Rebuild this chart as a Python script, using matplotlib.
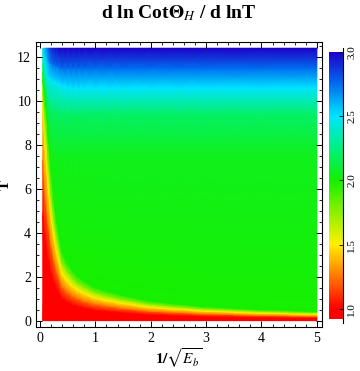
import numpy as np
import matplotlib
matplotlib.use("Agg")
import matplotlib.pyplot as plt
from matplotlib.colors import LinearSegmentedColormap
from matplotlib.ticker import MultipleLocator

plt.rcParams['font.family'] = ['Liberation Serif', 'DejaVu Serif']
plt.rcParams['mathtext.fontset'] = 'stix'

# columns of the density plot (1/sqrt(E_b))
x_cols = [0.05, 0.1, 0.15, 0.2, 0.25, 0.3, 0.4, 0.5, 0.6, 0.7, 0.8, 1.0, 1.25, 1.5, 2.0, 2.5, 3.0, 4.0, 5.0]
n = len(x_cols)

# T position of each colour row per column, with its value
t_bottom = [0.02] * n
v_bottom = [1.0] * n
t_red = [4.8, 3.6, 2.8, 2.2, 1.79, 1.46, 1.01, 0.85, 0.73, 0.65, 0.59, 0.49, 0.43, 0.38, 0.29, 0.25, 0.21, 0.17, 0.14]
v_red = [1.0] * n
t_orange = [7.3, 5.5, 4.4, 3.43, 2.77, 2.26, 1.57, 1.31, 1.13, 1.01, 0.91, 0.77, 0.67, 0.58, 0.45, 0.39, 0.33, 0.26, 0.22]
v_orange = [1.25] * n
t_yellow = [9.6, 7.6, 6.0, 4.7, 3.8, 3.1, 2.15, 1.8, 1.55, 1.38, 1.25, 1.05, 0.92, 0.80, 0.62, 0.53, 0.45, 0.36, 0.30]
v_yellow = [1.5] * n
t_lime = [10.4, 9.0, 7.3, 5.7, 4.64, 3.8, 2.62, 2.2, 1.89, 1.68, 1.53, 1.28, 1.12, 0.98, 0.76, 0.65, 0.55, 0.44, 0.37]
v_lime = [1.75] * n
t_green = [11.0, 10.0, 8.4, 6.8, 5.5, 4.5, 3.12, 2.61, 2.25, 2.0, 1.81, 1.52, 1.33, 1.16, 0.90, 0.77, 0.65, 0.52, 0.44]
v_green = [2.0] * n
t_green2 = [11.3, 10.5, 9.3, 7.8, 7.6] + [7.5] * (n - 5)
v_green2 = [2.1, 2.15, 2.1] + [2.05] * (n - 3)
t_teal = [11.7, 11.0, 10.2, 9.6, 9.55, 9.5] + [9.4] * (n - 6)
v_teal = [2.3, 2.35, 2.3] + [2.2] * (n - 3)
t_cyan = [12.0, 11.6, 11.1, 11.0, 10.9, 10.85, 10.7, 10.65] + [10.6] * (n - 8)
v_cyan = [2.4, 2.45] + [2.5] * (n - 2)
t_sky = [12.2, 12.0, 11.8, 11.7, 11.65, 11.6] + [11.5] * (n - 6)
v_sky = [2.45, 2.55, 2.65, 2.72, 2.74] + [2.75] * (n - 5)
t_top = [12.4] * n
v_top = [2.5, 2.65, 2.8, 2.9, 2.94, 2.97] + [3.0] * (n - 6)

bar_ticks = [1.0, 1.5, 2.0, 2.5, 3.0]

rows_t = [t_bottom, t_red, t_orange, t_yellow, t_lime, t_green, t_green2, t_teal, t_cyan, t_sky, t_top]
rows_v = [v_bottom, v_red, v_orange, v_yellow, v_lime, v_green, v_green2, v_teal, v_cyan, v_sky, v_top]

X = np.tile(np.array(x_cols), (len(rows_t), 1))
Y = np.array(rows_t)
V = np.array(rows_v)

vmin, vmax = 0.92, 3.0
def pos(v):
    return (v - vmin) / (vmax - vmin)

cmap = LinearSegmentedColormap.from_list("mma", [
    (0.0, (1.0, 0.0, 0.0)),
    (pos(1.0), (1.0, 0.0, 0.0)),
    (pos(1.25), (1.0, 0.47, 0.0)),
    (pos(1.5), (1.0, 0.94, 0.0)),
    (pos(1.75), (0.55, 0.94, 0.0)),
    (pos(2.0), (0.08, 0.94, 0.0)),
    (pos(2.25), (0.0, 0.94, 0.5)),
    (pos(2.5), (0.0, 0.9, 1.0)),
    (pos(2.75), (0.0, 0.43, 0.94)),
    (1.0, (0.12, 0.0, 0.78)),
])

fig = plt.figure(figsize=(3.6, 3.71), dpi=100)
ax = fig.add_axes([0.1, 0.1186, 0.794, 0.768])
mesh = ax.pcolormesh(X, Y, V, cmap=cmap, vmin=vmin, vmax=vmax, shading='gouraud')

ax.set_xlim(-0.072, 5.09)
ax.set_ylim(-0.27, 12.68)
ax.xaxis.set_major_locator(MultipleLocator(1))
ax.xaxis.set_minor_locator(MultipleLocator(0.2))
ax.yaxis.set_major_locator(MultipleLocator(2))
ax.yaxis.set_minor_locator(MultipleLocator(0.5))
ax.tick_params(which='both', direction='in', top=True, right=True, labelsize=10)
ax.tick_params(which='major', length=4, width=0.7)
ax.tick_params(which='minor', length=2, width=0.6)
for s in ax.spines.values():
    s.set_linewidth(0.8)

ax.set_title(r'd ln Cot$\mathbf{\Theta}_{\mathit{H}}$ / d lnT', fontsize=14,
             fontweight='bold', pad=17)
ax.set_xlabel(r'$\mathbf{1/}\sqrt{E_b}$', fontsize=11, fontweight='bold', labelpad=1)
ax.set_ylabel('T', fontsize=11, fontweight='bold')
ax.yaxis.set_label_coords(-0.085, 0.5)

cax = fig.add_axes([0.914, 0.140, 0.039, 0.72])
cb = fig.colorbar(mesh, cax=cax, ticks=bar_ticks)
cb.outline.set_visible(False)
cb.ax.set_yticklabels([f"{t:.1f}" for t in bar_ticks], rotation=90, va='center', fontsize=8)
cb.ax.tick_params(direction='in', length=3, width=0.6, pad=3)
cb.ax.axvline(1.0, ymin=-0.015, ymax=1.015, color='black', lw=0.8, clip_on=False)

fig.savefig("out.png", dpi=100)
